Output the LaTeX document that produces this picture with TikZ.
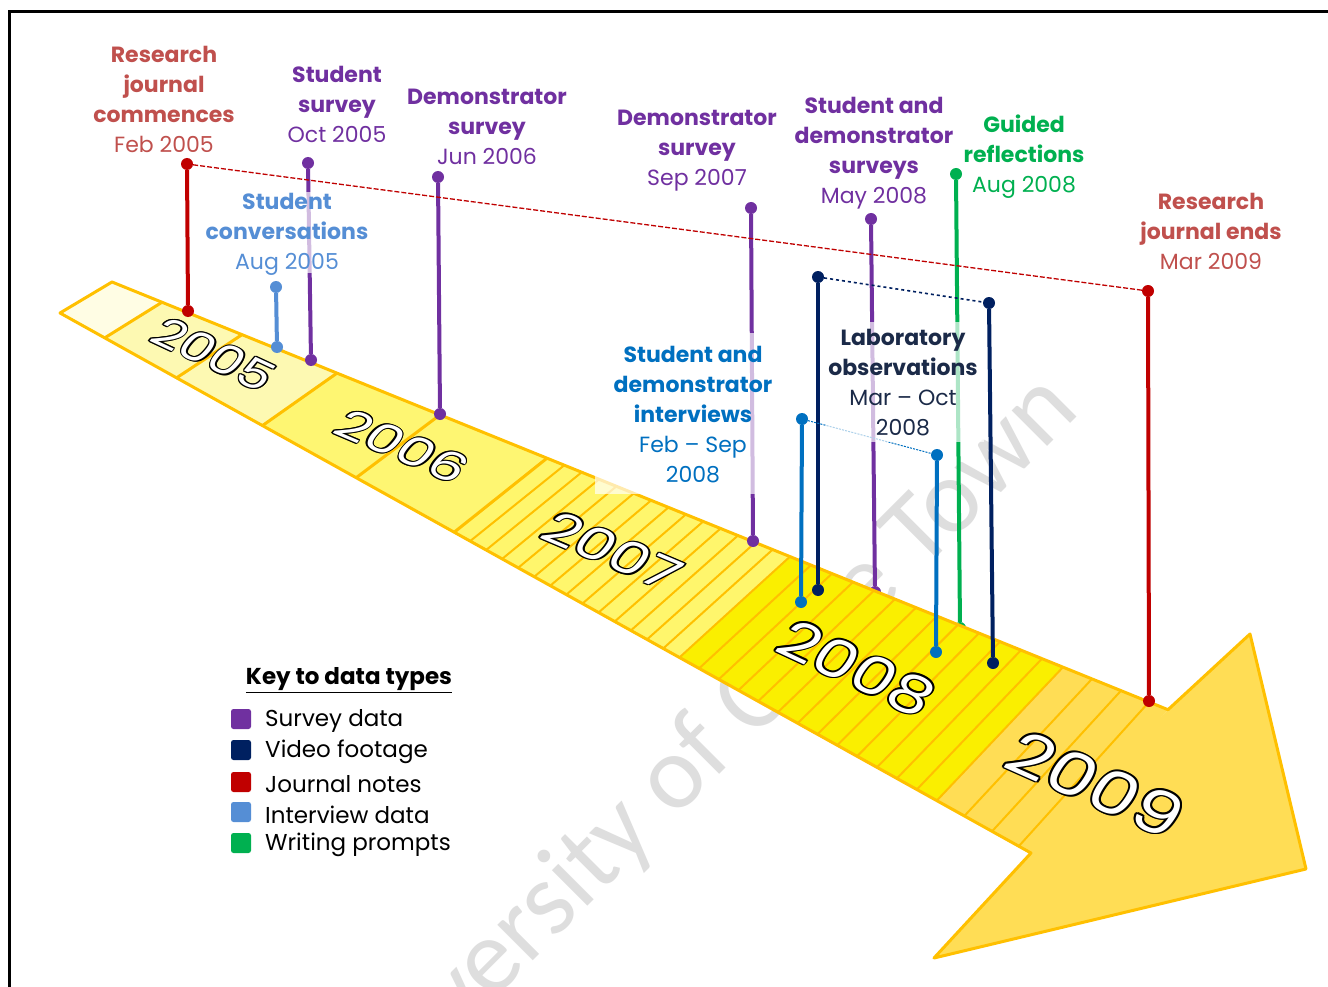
\documentclass[tikz,border=0pt]{standalone}
\usepackage{fontspec}
\setmainfont{Poppins}
\newfontfamily\wmfont{Carlito}
\usetikzlibrary{calc}

\definecolor{cpurple}{HTML}{7030A0}
\definecolor{cnavy}{HTML}{002060}
\definecolor{cred}{HTML}{C00000}
\definecolor{cblue}{HTML}{0070C0}
\definecolor{clblue}{HTML}{558ED5}
\definecolor{cgreen}{HTML}{00B050}
\definecolor{tred}{HTML}{C0504D}
\definecolor{tnavy}{HTML}{1B2A48}
\definecolor{bandedge}{HTML}{FFC000}
\definecolor{yr0}{HTML}{FFFDE4}
\definecolor{yr05}{HTML}{FDF9B2}
\definecolor{yr06}{HTML}{FEF672}
\definecolor{yr07}{HTML}{FFF66C}
\definecolor{yr08}{HTML}{FAEF00}
\definecolor{yr09}{HTML}{FFDD55}
\definecolor{wmgray}{HTML}{DEDEDE}

\newcommand\yearfont{\fontsize{30}{30}\selectfont}
% white figures with a thin black outline
\newcommand\outl[1]{%
  \leavevmode
  \rlap{\color{black}\kern-0.8pt#1}%
  \rlap{\color{black}\kern0.8pt#1}%
  \rlap{\color{black}\raisebox{0.8pt}{#1}}%
  \rlap{\color{black}\raisebox{-0.8pt}{#1}}%
  \rlap{\color{black}\kern-0.6pt\raisebox{0.6pt}{#1}}%
  \rlap{\color{black}\kern0.6pt\raisebox{0.6pt}{#1}}%
  \rlap{\color{black}\kern-0.6pt\raisebox{-0.6pt}{#1}}%
  \rlap{\color{black}\kern0.6pt\raisebox{-0.6pt}{#1}}%
  {\color{white}#1}}

% points of the timeline band for a given top-edge x
\newcommand\bandcalc[1]{%
  \pgfmathsetmacro\yt{282+0.405*(#1-112)}%
  \pgfmathsetmacro\xb{60+0.893*(#1-112)+0.000025*(#1-112)*(#1-112)}%
  \pgfmathsetmacro\yb{313+0.556*(\xb-60)}}
\newcommand\bandsec[3]{%
  \bandcalc{#1}\let\ytA\yt\let\xbA\xb\let\ybA\yb
  \bandcalc{#2}%
  \fill[#3] (#1,\ytA) -- (#2,\yt) -- (\xb,\yb) -- (\xbA,\ybA) -- cycle;}
\newcommand\bandline[2]{%
  \bandcalc{#1}%
  \draw[#2] (#1,\yt) -- (\xb,\yb);}

% year written flat on the band (width and height measured before the picture)
\newlength\ywd \newlength\yht
\newcommand\yearlabel[8]{%
  \pgfmathsetmacro\ca{#4/\ywd*cos(#6)}%
  \pgfmathsetmacro\cb{-#4/\ywd*sin(#6)}%
  \pgfmathsetmacro\cc{#5/\yht*cos(#7)}%
  \pgfmathsetmacro\cd{#5/\yht*sin(#7)}%
  \begin{scope}[shift={(#2,#3)}]
    \node[anchor=base west, inner sep=0pt, cm={\ca,\cb,\cc,\cd,(0,0)}] (#1) at (0,0) {\yearfont\outl{#8}};
  \end{scope}}

\begin{document}
\settowidth\ywd{\normalfont\yearfont 2005}%
\settoheight\yht{\normalfont\yearfont 0}%
\begin{tikzpicture}[x=1pt,y=-1pt,
  dot/.style={circle, fill=#1, draw=none, inner sep=0pt, minimum size=12pt},
  stem/.style={draw=#1, line width=4pt},
  lbl/.style={align=center, inner sep=0pt, font=\fontsize{22}{30}\selectfont},
  veil/.style={fill=white, fill opacity=0.68, draw=none},
  keysq/.style={fill=#1, draw=none, rounded corners=2.5pt, minimum size=20pt, inner sep=0pt},
  keytxt/.style={anchor=west, inner sep=0pt, font=\fontsize{23}{28}\selectfont},
  divider/.style={draw=bandedge, line width=3pt},
  stripe/.style={draw=bandedge, line width=2pt},
]
\useasboundingbox (0,0) rectangle (1328,987);
\fill[white] (0,0) rectangle (1328,987);

% watermark
\begin{scope}
  \clip (0,0) rectangle (1328,987);
  \node[text=wmgray, font=\wmfont\fontsize{105}{105}\selectfont, rotate=45] (wm) at (699,756) {University of Cape Town};
\end{scope}

% frame
\draw[line width=3pt, black] (9,990) -- (9,12) -- (1330,12);

% stems that run behind the band
\node[dot=cpurple] (s5t) at (871,219) {};
\node[dot=cpurple] (s5b) at (875,592) {};
\draw[stem=cpurple] (s5t) -- (s5b);
\node[dot=cgreen] (g1t) at (956,174) {};
\node[dot=cgreen] (g1b) at (960,628) {};
\draw[stem=cgreen] (g1t) -- (g1b);

% band sections
\bandsec{112}{162}{yr0}
\bandsec{162}{337}{yr05}
\bandsec{337}{547}{yr06}
\bandsec{547}{790}{yr07}
\bandsec{790}{1063}{yr08}
\bandsec{1063}{1168}{yr09}
\fill[yr09] (1168,709.7) -- (1250,634) -- (1306,869) -- (934,958) -- (1031,853) -- cycle;

% month stripes
\foreach \k in {1,...,13} {\pgfmathsetmacro\tx{547+\k*243/14}\bandline{\tx}{stripe}}
\foreach \k in {0,...,12} {\pgfmathsetmacro\tx{790+\k*273/13}\bandline{\tx}{stripe}}
\foreach \tx in {1063,1092,1121,1149} {\bandline{\tx}{stripe}}
% year dividers
\foreach \tx in {162,242,337,440,547} {\bandline{\tx}{divider}}
% outline of band and arrow head
\draw[bandedge, line width=3pt, line join=round]
  (112,282) -- (1168,709.7) -- (1250,634) -- (1306,869) -- (934,958)
  -- (1031,853) -- (60,313) -- cycle;

% years
\yearlabel{y05}{147}{340}{125}{32}{25}{50}{2005}
\yearlabel{y06}{330}{432}{134}{32}{23}{50}{2006}
\yearlabel{y07}{537}{537}{145}{35}{23}{52}{2007}
\yearlabel{y08}{772}{650}{162}{40}{25}{55}{2008}
\yearlabel{y09}{1000}{766}{182}{45}{24}{57}{2009}

% data points
\node[dot=cred] (r1t) at (187,164) {};
\node[dot=cred] (r1b) at (188,311) {};
\draw[stem=cred] (r1t) -- (r1b);
\node[dot=clblue] (c1t) at (276,287) {};
\node[dot=clblue] (c1b) at (277,347) {};
\draw[stem=clblue] (c1t) -- (c1b);
\node[dot=cpurple] (s1t) at (308,163) {};
\node[dot=cpurple] (s1b) at (311,360) {};
\draw[stem=cpurple] (s1t) -- (s1b);
\node[dot=cpurple] (s2t) at (438,177) {};
\node[dot=cpurple] (s2b) at (440,414) {};
\draw[stem=cpurple] (s2t) -- (s2b);
\node[dot=cpurple] (s3t) at (751,208) {};
\node[dot=cpurple] (s3b) at (753,541) {};
\draw[stem=cpurple] (s3t) -- (s3b);
\node[dot=cnavy] (v1t) at (818,277) {};
\node[dot=cnavy] (v1b) at (818,590) {};
\draw[stem=cnavy] (v1t) -- (v1b);
\node[dot=cnavy] (v2t) at (989,303) {};
\node[dot=cnavy] (v2b) at (993,663) {};
\draw[stem=cnavy] (v2t) -- (v2b);
\node[dot=cblue] (i1t) at (802,419) {};
\node[dot=cblue] (i1b) at (801,602) {};
\draw[stem=cblue] (i1t) -- (i1b);
\node[dot=cblue] (i2t) at (937,455) {};
\node[dot=cblue] (i2b) at (936,652) {};
\draw[stem=cblue] (i2t) -- (i2b);
\node[dot=cred] (r2t) at (1148,291) {};
\node[dot=cred] (r2b) at (1149,701) {};
\draw[stem=cred] (r2t) -- (r2b);

% spans
\draw[cred, line width=1.3pt, dash pattern=on 5pt off 2pt] (r1t) -- (r2t);
\draw[cnavy, line width=1.6pt, dash pattern=on 3pt off 3pt] (v1t) -- (v2t);
\draw[cblue, line width=1pt, dash pattern=on 2pt off 1.2pt] (i1t) -- (i2t);

% label backgrounds
\fill[veil] (200,192) rectangle (373,273);
\fill[veil] (595,333) rectangle (790,494);
\fill[veil] (826,322) rectangle (984,442);

% labels
\node[lbl, text=tred] (l1) at (164,99) {\textbf{Research}\\\textbf{journal}\\\textbf{commences}\\Feb 2005};
\node[lbl, text=cpurple] (l2) at (337,104) {\textbf{Student}\\\textbf{survey}\\Oct 2005};
\node[lbl, text=cpurple] (l3) at (487,127) {\textbf{Demonstrator}\\\textbf{survey}\\Jun 2006};
\node[lbl, text=cpurple] (l4) at (697,151) {\textbf{Demonstrator}\\\textbf{survey}\\Sep 2007};
\node[lbl, text=cpurple] (l5) at (874,153) {\textbf{Student and}\\\textbf{demonstrator}\\\textbf{surveys}\\May 2008};
\node[lbl, text=cgreen] (l6) at (1024,157) {\textbf{Guided}\\\textbf{reflections}\\Aug 2008};
\node[lbl, text=tred] (l7) at (1211,231) {\textbf{Research}\\\textbf{journal ends}\\Mar 2009};
\node[lbl, text=clblue] (l8) at (287,234) {\textbf{Student}\\\textbf{conversations}\\Aug 2005};
\node[lbl, text=cblue] (l9) at (693,415) {\textbf{Student and}\\\textbf{demonstrator}\\\textbf{interviews}\\Feb – Sep\\2008};
\node[lbl, text=tnavy] (l10) at (903,383) {\textbf{Laboratory}\\\textbf{observations}\\Mar – Oct\\2008};

% key
\node[inner sep=0pt, font=\fontsize{23}{28}\selectfont\bfseries] (keyt) at (349,680) {\underline{Key to data types}};
\node[keysq=cpurple] (k1) at (241,719) {};
\node[keysq=cnavy] (k2) at (241,750) {};
\node[keysq=cred] (k3) at (241,782) {};
\node[keysq=clblue] (k4) at (241,812) {};
\node[keysq=cgreen] (k5) at (241,843) {};
\node[keytxt] (k1t) at (265,721) {Survey data};
\node[keytxt] (k2t) at (265,752) {Video footage};
\node[keytxt] (k3t) at (265,784) {Journal notes};
\node[keytxt] (k4t) at (265,815) {Interview data};
\node[keytxt] (k5t) at (265,845) {Writing prompts};
\end{tikzpicture}
\end{document}
